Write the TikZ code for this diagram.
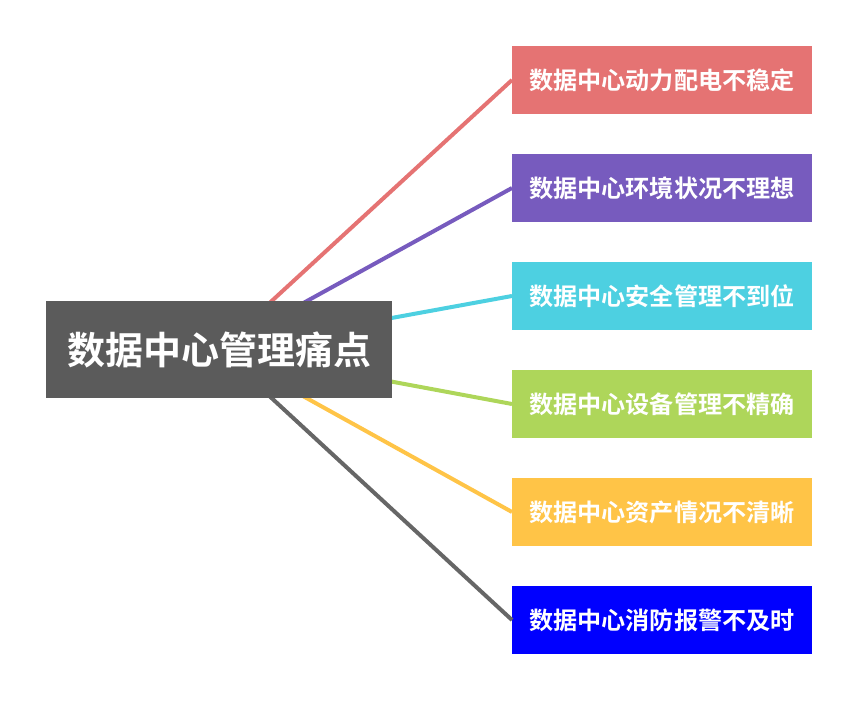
\documentclass[tikz,border=0pt]{standalone}
\usepackage{fontspec}
\newfontfamily\cjk{Noto Sans CJK SC}[BoldFont={* Bold}]
\definecolor{cRed}{HTML}{E57373}
\definecolor{cPurple}{HTML}{775BBE}
\definecolor{cCyan}{HTML}{4DD0E1}
\definecolor{cGreen}{HTML}{AED65A}
\definecolor{cYellow}{HTML}{FFC447}
\definecolor{cBlue}{HTML}{0000FF}
\definecolor{cCenter}{HTML}{5B5B5B}
\definecolor{cLine}{HTML}{666666}
\begin{document}
\begin{tikzpicture}[x=1pt,y=-1pt,
  leaf/.style={minimum width=300pt,minimum height=68pt,inner sep=0pt,outer sep=0pt,text=white,font=\cjk\bfseries\fontsize{24.1}{28}\selectfont},
  conn/.style={line width=4pt}]
\useasboundingbox (0,0) rectangle (862,703);
\coordinate (c) at (219,349.5);
\node[leaf,fill=cRed]    (r1) at (662,80)  {数据中心动力配电不稳定};
\node[leaf,fill=cPurple] (r2) at (662,188) {数据中心环境状况不理想};
\node[leaf,fill=cCyan]   (r3) at (662,296) {数据中心安全管理不到位};
\node[leaf,fill=cGreen]  (r4) at (662,404) {数据中心设备管理不精确};
\node[leaf,fill=cYellow] (r5) at (662,512) {数据中心资产情况不清晰};
\node[leaf,fill=cBlue]   (r6) at (662,620) {数据中心消防报警不及时};
\draw[conn,cRed]    (c) -- (r1.west);
\draw[conn,cPurple] (c) -- (r2.west);
\draw[conn,cCyan]   (c) -- (r3.west);
\draw[conn,cGreen]  (c) -- (r4.west);
\draw[conn,cYellow] (c) -- (r5.west);
\draw[conn,cLine]   (c) -- (r6.west);
\node[fill=cCenter,minimum width=346pt,minimum height=97pt,inner sep=0pt,text=white,font=\cjk\bfseries\fontsize{38}{44}\selectfont] (center) at (c) {数据中心管理痛点};
\end{tikzpicture}
\end{document}
